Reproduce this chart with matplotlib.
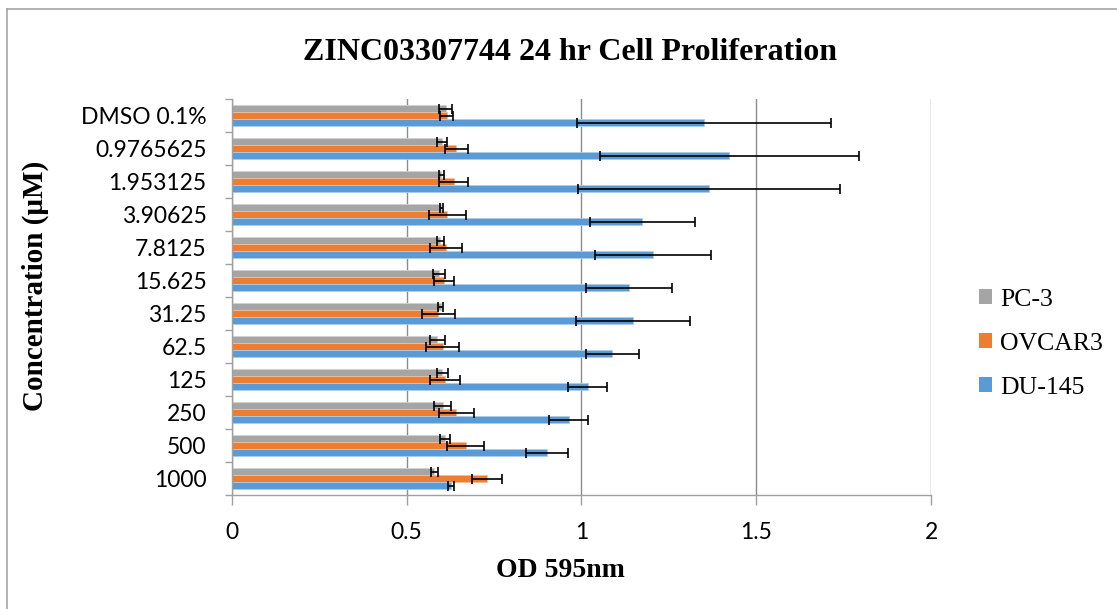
import numpy as np
import matplotlib
matplotlib.use("Agg")
import matplotlib.pyplot as plt
from matplotlib.lines import Line2D
from matplotlib.patches import Patch

# Concentrations, listed top to bottom
categories = ["DMSO 0.1%", "0.9765625", "1.953125", "3.90625", "7.8125", "15.625",
              "31.25", "62.5", "125", "250", "500", "1000"]

pc3 = [0.612, 0.602, 0.600, 0.600, 0.597, 0.593, 0.598, 0.588, 0.602, 0.603, 0.610, 0.580]
pc3_err = [0.019, 0.014, 0.006, 0.004, 0.011, 0.017, 0.007, 0.021, 0.016, 0.024, 0.015, 0.011]

ovcar3 = [0.615, 0.642, 0.635, 0.617, 0.614, 0.608, 0.591, 0.604, 0.610, 0.642, 0.669, 0.730]
ovcar3_err = [0.019, 0.033, 0.041, 0.054, 0.046, 0.029, 0.047, 0.047, 0.042, 0.050, 0.052, 0.042]

du145 = [1.351, 1.423, 1.364, 1.174, 1.205, 1.136, 1.147, 1.089, 1.018, 0.964, 0.902, 0.628]
du145_err = [0.363, 0.371, 0.375, 0.150, 0.167, 0.123, 0.163, 0.075, 0.056, 0.056, 0.061, 0.009]

x_ticks = [0, 0.5, 1, 1.5, 2]
x_tick_labels = ["0", "0.5", "1", "1.5", "2"]

series = [
    ("PC-3", pc3, pc3_err, "#A5A5A5", "#d2d2d2"),
    ("OVCAR3", ovcar3, ovcar3_err, "#ED7D31", "#f6be98"),
    ("DU-145", du145, du145_err, "#5B9BD5", "#adcdea"),
]

W, H, DPI = 1117, 609, 100
fig = plt.figure(figsize=(W / DPI, H / DPI), dpi=DPI)
fig.patch.set_facecolor("white")

left, right, top, bottom = 231.7, 931.0, 99.3, 495.3
ax = fig.add_axes([left / W, 1 - bottom / H, (right - left) / W, (bottom - top) / H])

serif = ["Liberation Serif", "DejaVu Serif"]
sans = ["Lato", "DejaVu Sans"]

y = np.arange(len(categories))
bar_h = 0.216
offsets = [-bar_h, 0.0, bar_h]

for (name, vals, errs, color, edge), off in zip(series, offsets):
    ax.barh(y + off, vals, height=bar_h, color=color, edgecolor=edge,
            linewidth=0.6, zorder=2)
    ax.errorbar(vals, y + off, xerr=errs, fmt="none", ecolor="black",
                elinewidth=1.2, capsize=3.6, capthick=1.2, zorder=3)

ax.set_xlim(0, 2)
ax.set_ylim(len(categories) - 0.5, -0.5)

ax.set_xticks(x_ticks)
ax.set_xticklabels(x_tick_labels, fontfamily=sans, fontsize=16.5)
ax.set_yticks(y)
ax.set_yticklabels(categories, fontfamily=sans, fontsize=16.5)
ax.set_yticks(np.arange(-0.5, len(categories), 1.0), minor=True)

ax.tick_params(axis="y", which="major", length=0, pad=18)
ax.tick_params(axis="y", which="minor", length=5, width=1, color="#a0a0a0")
ax.tick_params(axis="x", which="major", length=7, width=1, color="#a0a0a0", pad=12)

ax.grid(axis="x", color="#8c8c8c", linewidth=1.0, zorder=0)
ax.set_axisbelow(True)
for s in ["top", "right"]:
    ax.spines[s].set_visible(False)
for s in ["left", "bottom"]:
    ax.spines[s].set_color("#a0a0a0")
    ax.spines[s].set_linewidth(1.0)

# Title and axis titles
fig.text(570 / W, 1 - 59.5 / H, "ZINC03307744 24 hr Cell Proliferation",
         ha="center", va="baseline", fontfamily=serif, fontweight="bold", fontsize=23)
fig.text(560 / W, 1 - 577 / H, "OD 595nm", ha="center", va="baseline",
         fontfamily=serif, fontweight="bold", fontsize=20)
fig.text(35 / W, 1 - 286 / H, "Concentration (\u03bcM)", ha="center", va="center",
         rotation=90, fontfamily=serif, fontweight="bold", fontsize=21)

# Legend
handles = [Patch(facecolor=c, edgecolor="none", label=n) for n, _, _, c, _ in series]
fig.legend(handles=handles, loc="center left", bbox_to_anchor=(979 / W, 1 - 344 / H),
           frameon=False, borderpad=0, borderaxespad=0,
           prop={"family": serif, "size": 18.5},
           handlelength=0.52, handleheight=0.52, handletextpad=0.3, labelspacing=0.86)

# Chart area border (left and top edges)
fig.add_artist(Line2D([7 / W, 7 / W], [0, 1 - 9 / H], transform=fig.transFigure,
                      color="#a6a6a6", linewidth=1.2))
fig.add_artist(Line2D([7 / W, 1], [1 - 9 / H, 1 - 9 / H], transform=fig.transFigure,
                      color="#a6a6a6", linewidth=1.2))

fig.savefig("out.png", dpi=DPI)
